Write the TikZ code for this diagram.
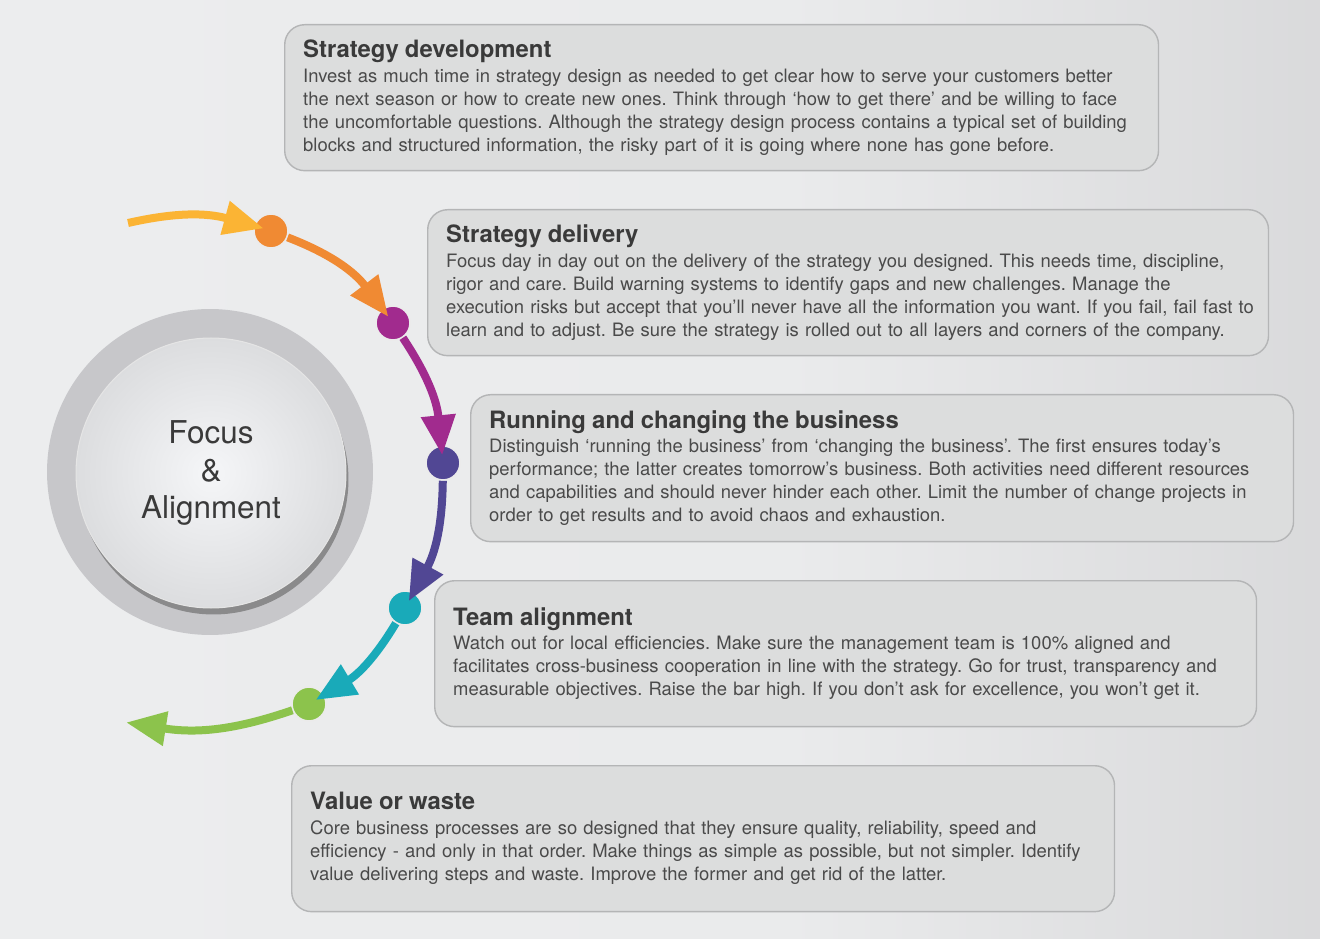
\documentclass[tikz,border=0pt]{standalone}
\usepackage{fontspec}
\setmainfont{TeX Gyre Heros}
\usetikzlibrary{arrows.meta,shadows}

\definecolor{bglight}{HTML}{EEEFF0}
\definecolor{bgdark}{HTML}{C5C5C7}
\definecolor{cardfill}{HTML}{DCDDDD}
\definecolor{cardedge}{HTML}{B4B5B6}
\definecolor{ringgray}{HTML}{C7C7CA}
\definecolor{hublight}{HTML}{F5F6F8}
\definecolor{hubdark}{HTML}{DCDDDF}
\definecolor{titletext}{HTML}{3A3A3A}
\definecolor{bodytext}{HTML}{4A4A4A}
\definecolor{cyellow}{HTML}{FBB434}
\definecolor{corange}{HTML}{F08A33}
\definecolor{cmagenta}{HTML}{A12B8E}
\definecolor{cindigo}{HTML}{514794}
\definecolor{cteal}{HTML}{19AAB9}
\definecolor{cgreen}{HTML}{8CC34C}

\pgfdeclarehorizontalshading{bgshade}{100bp}{color(0bp)=(bglight); color(55bp)=(bglight!90!bgdark); color(100bp)=(bgdark)}

\newcommand{\cardhead}[1]{{\fontsize{13.6}{15}\selectfont\bfseries\color{titletext}#1}\\[1pt]}
\newcommand{\fullline}[1]{\makebox[\linewidth][l]{#1}}

\frenchspacing
\begin{document}
\begin{tikzpicture}[x=0.02cm, y=0.02cm,
        card/.style={draw=cardedge, fill=cardfill, line width=0.8pt, rounded corners=0.4cm,
            anchor=north west, minimum height=2.92cm, inner xsep=0.37cm, inner ysep=0pt,
            align=left, text=bodytext, font=\fontsize{10.5}{13.1}\selectfont},
        dot/.style={circle, draw=white!92!black, line width=0.9pt, minimum size=0.68cm, inner sep=0pt},
        flow/.style={line width=0.16cm, shorten >=-0.2cm, -{Triangle[length=0.8cm, width=0.66cm]}}
    ]
    \shade[shading=bgshade] (0,0) rectangle (1320,-939);

    \node[circle, fill=ringgray, minimum size=6.52cm] (ring) at (210,-472) {};
    \node[circle, inner color=hublight, outer color=hubdark, draw=white!90!black, line width=0.6pt,
        minimum size=5.4cm, align=center, text=titletext, font=\fontsize{17.9}{21.5}\selectfont,
        drop shadow={shadow xshift=0.05cm, shadow yshift=-0.13cm, opacity=0.55, fill=black!65}]
        (hub) at (211,-473) {Focus\\ \&\\ Alignment};

    \node[card, text width=16.74cm] (develop) at (284,-24) {\cardhead{Strategy development}
        Invest as much time in strategy design as needed to get clear how to serve your customers better\\
        the next season or how to create new ones. Think through ‘how to get there’ and be willing to face\\
        the uncomfortable questions. Although the strategy design process contains a typical set of building\\
        blocks and structured information, the risky part of it is going where none has gone before.};
    \node[card, text width=16.08cm] (deliver) at (427,-209) {\cardhead{Strategy delivery}
        Focus day in day out on the delivery of the strategy you designed. This needs time, discipline,\\
        rigor and care. Build warning systems to identify gaps and new challenges. Manage the\\
        \fullline{execution risks but accept that you’ll never have all the information you want. If you fail, fail fast to}\\
        learn and to adjust. Be sure the strategy is rolled out to all layers and corners of the company.};
    \node[card, text width=15.72cm, minimum height=2.94cm] (running) at (470,-394) {\cardhead{Running and changing the business}
        Distinguish ‘running the business’ from ‘changing the business’. The first ensures today’s\\
        performance; the latter creates tomorrow’s business. Both activities need different resources\\
        and capabilities and should never hinder each other. Limit the number of change projects in\\
        order to get results and to avoid chaos and exhaustion.};
    \node[card, text width=15.70cm] (team) at (434,-580) {\cardhead{Team alignment}
        Watch out for local efficiencies. Make sure the management team is 100\% aligned and\\
        facilitates cross-business cooperation in line with the strategy. Go for trust, transparency and\\
        measurable objectives. Raise the bar high. If you don’t ask for excellence, you won’t get it.};
    \node[card, text width=15.72cm] (value) at (291,-765) {\cardhead{Value or waste}
        Core business processes are so designed that they ensure quality, reliability, speed and\\
        efficiency - and only in that order. Make things as simple as possible, but not simpler. Identify\\
        value delivering steps and waste. Improve the former and get rid of the latter.};

    \coordinate (start) at (128,-223);
    \coordinate (finish) at (136,-724);
    \node[dot, fill=corange] (d1) at (271,-231) {};
    \node[dot, fill=cmagenta] (d2) at (393,-323) {};
    \node[dot, fill=cindigo] (d3) at (443,-463) {};
    \node[dot, fill=cteal] (d4) at (405,-608) {};
    \node[dot, fill=cgreen] (d5) at (309,-704) {};

    \draw[flow, cyellow] (start) to[bend left=14] (d1);
    \draw[flow, corange] (d1) to[bend left=16] (d2);
    \draw[flow, cmagenta] (d2) to[bend left=14] (d3);
    \draw[flow, cindigo] (d3) to[bend left=14] (d4);
    \draw[flow, cteal] (d4) to[bend left=14] (d5);
    \draw[flow, cgreen] (d5) to[bend left=14] (finish);
\end{tikzpicture}
\end{document}
